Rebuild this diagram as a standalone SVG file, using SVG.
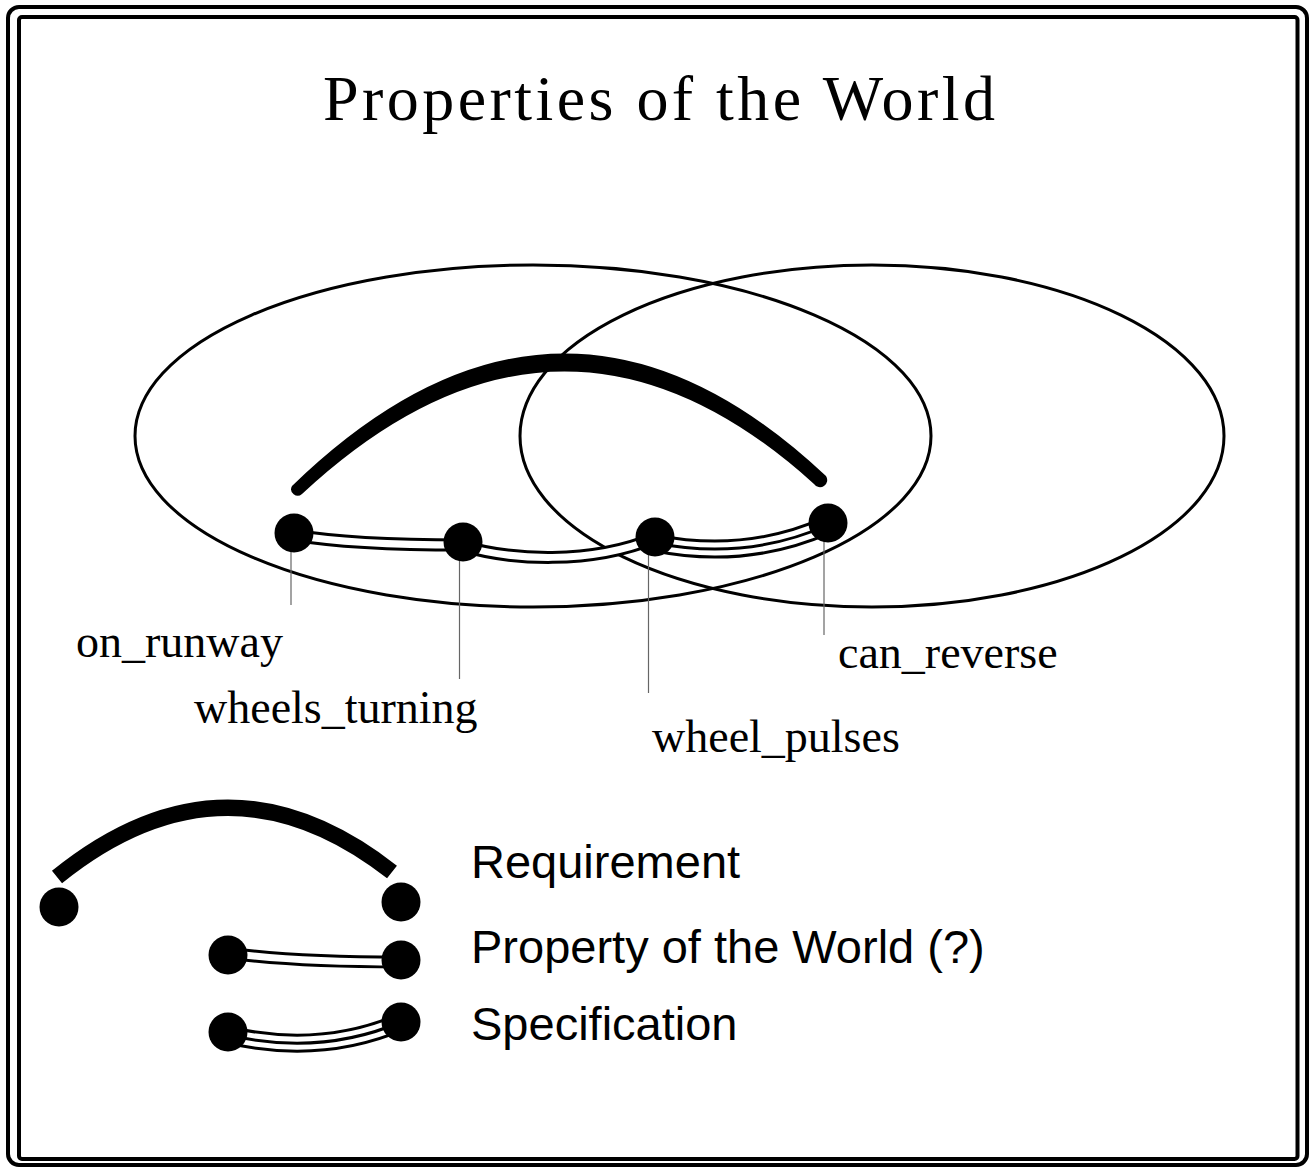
<svg xmlns="http://www.w3.org/2000/svg" width="1310" height="1167" viewBox="0 0 1310 1167">
<style>
.frame{fill:none;stroke:#000;stroke-width:4}
.set{fill:none;stroke:#000;stroke-width:3}
.dot{fill:#000}
.lead{stroke:#666;stroke-width:1.2;fill:none}
.req{fill:none;stroke:#000;stroke-width:16}
.reqfill{fill:#000;stroke:none}
.bk2{fill:none;stroke:#000;stroke-width:13}
.wh2{fill:none;stroke:#fff;stroke-width:7}
.bk3{fill:none;stroke:#000;stroke-width:19}
.wh3{fill:none;stroke:#fff;stroke-width:13}
.mid3{fill:none;stroke:#000;stroke-width:3}
.serif{font-family:"Liberation Serif","Times New Roman",serif;fill:#000}
.sans{font-family:"Liberation Sans",Arial,sans-serif;fill:#000;font-size:47px}
.lbl{font-size:46px}
</style>
<rect x="0" y="0" width="1310" height="1167" fill="#fff"/>
<g id="frame">
<rect class="frame" x="8" y="7" width="1299" height="1158" rx="11"/>
<rect class="frame" x="19" y="17" width="1278.5" height="1142" rx="3"/>
</g>
<text id="title" class="serif" x="323" y="120" font-size="64" textLength="672" lengthAdjust="spacing">Properties of the World</text>
<g id="set-left"><ellipse class="set" cx="533" cy="436" rx="398" ry="171"/></g>
<g id="set-right"><ellipse class="set" cx="872" cy="436" rx="352" ry="171"/></g>
<g id="connectors">
<path id="requirement" class="reqfill" d="M292,486 Q560,226 826,476 A6.5,6.5 0 0 1 814,484 Q560,254 302,494 A6.5,6.5 0 0 1 292,486 Z"/>
<g id="pw-on_runway-wheels_turning">
<path class="bk2" d="M294,535 C340,543 400,545 463,545"/>
<path class="wh2" d="M294,535 C340,543 400,545 463,545"/>
</g>
<g id="pw-wheels_turning-wheel_pulses">
<path class="bk2" d="M463,546 C510,560 590,565 655,538"/>
<path class="wh2" d="M463,546 C510,560 590,565 655,538"/>
</g>
<g id="spec-wheel_pulses-can_reverse">
<path class="bk3" d="M655,543 C700,552 760,555 828,525"/>
<path class="wh3" d="M655,543 C700,552 760,555 828,525"/>
<path class="mid3" d="M655,543 C700,552 760,555 828,525"/>
</g>
</g>
<g id="node-on_runway">
<line class="lead" x1="291" y1="550" x2="291" y2="605"/>
<circle class="dot" cx="294" cy="533" r="19.5"/>
<text class="serif lbl" x="76" y="657">on_runway</text>
</g>
<g id="node-wheels_turning">
<line class="lead" x1="459.5" y1="560" x2="459.5" y2="679"/>
<circle class="dot" cx="463" cy="542" r="19.5"/>
<text class="serif lbl" x="194" y="723">wheels_turning</text>
</g>
<g id="node-wheel_pulses">
<line class="lead" x1="648.5" y1="555" x2="648.5" y2="693"/>
<circle class="dot" cx="655" cy="537" r="19.5"/>
<text class="serif lbl" x="652" y="752">wheel_pulses</text>
</g>
<g id="node-can_reverse">
<line class="lead" x1="824" y1="540" x2="824" y2="635"/>
<circle class="dot" cx="828" cy="523" r="19.5"/>
<text class="serif lbl" x="838" y="668">can_reverse</text>
</g>
<g id="legend">
<g id="legend-requirement">
<path class="req" d="M57,877 Q225,741 392,872"/>
<circle class="dot" cx="59" cy="907" r="19.5"/>
<circle class="dot" cx="401" cy="902" r="19.5"/>
<text class="sans" x="471" y="878">Requirement</text>
</g>
<g id="legend-property">
<path class="bk2" d="M228,953 C280,960 330,962 401,962"/>
<path class="wh2" d="M228,953 C280,960 330,962 401,962"/>
<circle class="dot" cx="228" cy="955" r="19.5"/>
<circle class="dot" cx="401" cy="960" r="19.5"/>
<text class="sans" x="471" y="963">Property of the World (?)</text>
</g>
<g id="legend-specification">
<path class="bk3" d="M228,1035 C280,1047 340,1048 401,1022"/>
<path class="wh3" d="M228,1035 C280,1047 340,1048 401,1022"/>
<path class="mid3" d="M228,1035 C280,1047 340,1048 401,1022"/>
<circle class="dot" cx="228" cy="1032" r="19.5"/>
<circle class="dot" cx="401" cy="1022" r="19.5"/>
<text class="sans" x="471" y="1040">Specification</text>
</g>
</g>
</svg>
